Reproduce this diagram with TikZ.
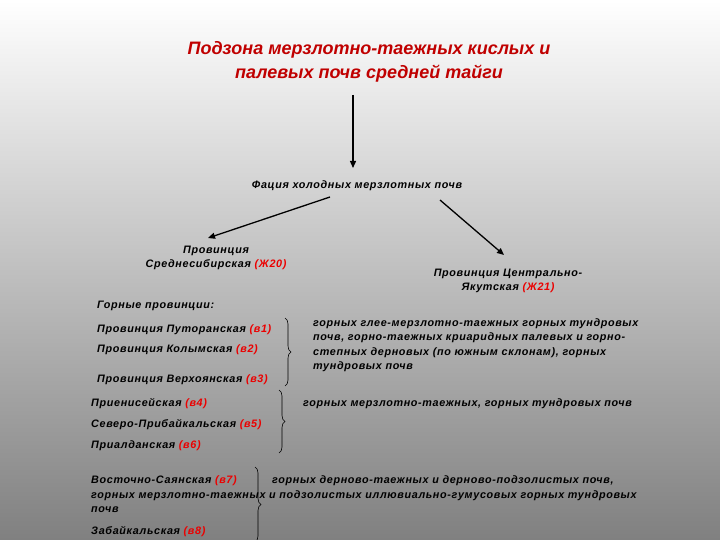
\documentclass[tikz,border=0pt]{standalone}
\usepackage{fontspec}
\setmainfont{Liberation Sans}
\usetikzlibrary{decorations.pathreplacing,arrows.meta}
\definecolor{titlered}{RGB}{192,0,0}
\definecolor{labred}{RGB}{235,0,0}
\definecolor{bgbot}{RGB}{128,128,128}
\newfontfamily\wide[LetterSpace=6]{Liberation Sans}
\newcommand{\lab}[1]{\textcolor{labred}{#1}}
\tikzset{
  txt/.style={font=\wide\bfseries\itshape\fontsize{10.8}{14.5}\selectfont, inner sep=0pt, text=black},
  ttl/.style={font=\bfseries\itshape\fontsize{18}{24}\selectfont, inner sep=0pt, text=titlered, align=center},
  arr/.style={line width=1.3pt, -{Triangle[length=7pt,width=6pt]}},
  brc/.style={decorate, decoration={brace, amplitude=6pt}, line width=0.6pt}
}
\begin{document}
\begin{tikzpicture}[x=1pt,y=-1pt]
\shade[top color=white, bottom color=bgbot] (0,0) rectangle (720,540);
\useasboundingbox (0,0) rectangle (720,540);

\node[ttl] (t) at (369,62) {Подзона мерзлотно-таежных кислых и\\палевых почв средней тайги};
\node[txt] (f) at (357,186) {Фация холодных мерзлотных почв};
\node[txt, align=center] (p20) at (216,258) {Провинция\\Среднесибирская \lab{(Ж20)}};
\node[txt, align=center] (p21) at (508,281) {Провинция Центрально-\\Якутская \lab{(Ж21)}};

\coordinate (a0) at (353,95);
\coordinate (a1) at (353,168);
\coordinate (b0) at (330,197);
\coordinate (b1) at (208,238);
\coordinate (c0) at (440,200);
\coordinate (c1) at (504,255);
\draw[arr] (a0) -- (a1);
\draw[arr] (b0) -- (b1);
\draw[arr] (c0) -- (c1);

\node[txt, anchor=base west] (g) at (97,308) {Горные провинции:};
\node[txt, anchor=base west] (v1) at (97,332) {Провинция Путоранская \lab{(в1)}};
\node[txt, anchor=base west] (v2) at (97,352) {Провинция Колымская \lab{(в2)}};
\node[txt, anchor=base west] (v3) at (97,382) {Провинция Верхоянская \lab{(в3)}};
\draw[brc] (285,318) coordinate (br1a) -- (285,386) coordinate (br1b);
\node[txt, anchor=north west, align=left] (d1) at (313,318) {горных глее-мерзлотно-таежных горных тундровых\\почв, горно-таежных криаридных палевых и горно-\\степных дерновых (по южным склонам), горных\\тундровых почв};

\node[txt, anchor=base west] (v4) at (91,406) {Приенисейская \lab{(в4)}};
\node[txt, anchor=base west] (v5) at (91,427) {Северо-Прибайкальская \lab{(в5)}};
\node[txt, anchor=base west] (v6) at (91,448) {Приалданская \lab{(в6)}};
\draw[brc] (279,390) coordinate (br2a) -- (279,453) coordinate (br2b);
\node[txt, anchor=base west] (d2) at (303,406) {горных мерзлотно-таежных, горных тундровых почв};

\node[txt, anchor=base west] (v7) at (91,483) {Восточно-Саянская \lab{(в7)}};
\node[txt, anchor=base west] (d3) at (272,483) {горных дерново-таежных и дерново-подзолистых почв,};
\node[txt, anchor=base west] (d3b) at (91,498) {горных мерзлотно-таежных и подзолистых иллювиально-гумусовых горных тундровых};
\node[txt, anchor=base west] (d3c) at (91,512) {почв};
\node[txt, anchor=base west] (v8) at (91,534) {Забайкальская \lab{(в8)}};
\draw[brc] (255,467) coordinate (br3a) -- (255,542) coordinate (br3b);
\end{tikzpicture}
\end{document}
